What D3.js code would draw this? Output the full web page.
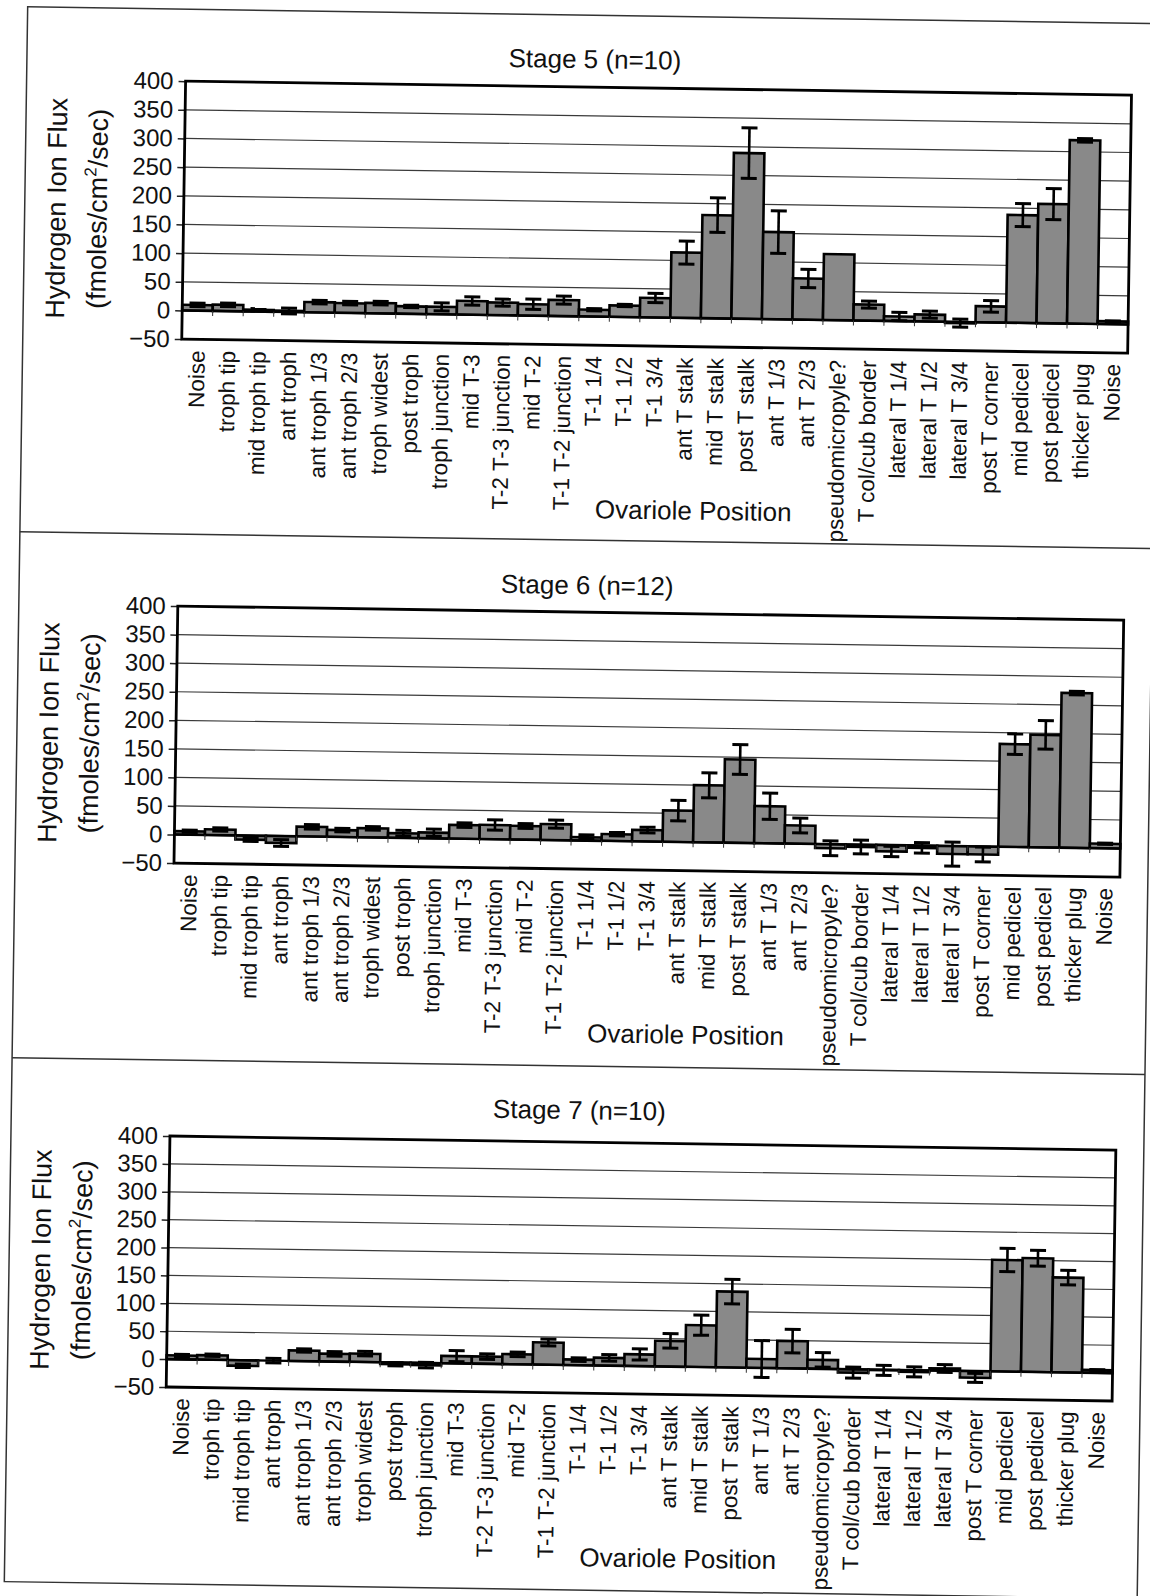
<!DOCTYPE html>
<html>
<head>
<meta charset="utf-8">
<script src="https://cdn.jsdelivr.net/npm/d3@7"></script>
<style>
  html, body { margin: 0; padding: 0; background: #fff; }
  svg { display: block; }
  text { font-family: "Liberation Sans", Arial, sans-serif; fill: #111; }
</style>
</head>
<body>
<svg id="chart" width="1150" height="1596"></svg>
<script>
// Ovariole positions along the x axis (same order in every stage)
const categories = [
  "Noise", "troph tip", "mid troph tip", "ant troph", "ant troph 1/3",
  "ant troph 2/3", "troph widest", "post troph", "troph junction", "mid T-3",
  "T-2 T-3 junction", "mid T-2", "T-1 T-2 junction", "T-1 1/4", "T-1 1/2",
  "T-1 3/4", "ant T stalk", "mid T stalk", "post T stalk", "ant T 1/3",
  "ant T 2/3", "pseudomicropyle?", "T col/cub border", "lateral T 1/4",
  "lateral T 1/2", "lateral T 3/4", "post T corner", "mid pedicel",
  "post pedicel", "thicker plug", "Noise"
];

const yTicks = [-50, 0, 50, 100, 150, 200, 250, 300, 350, 400];

const stageTitles = ["Stage 5 (n=10)", "Stage 6 (n=12)", "Stage 7 (n=10)"];

// Mean H+ flux (fmoles/cm2/sec) and error-bar half widths
const stage5Values = [10, 11, 3, 2, 18, 17, 18, 13, 13, 24, 22, 20, 28, 12, 20, 34,
  114, 180, 289, 152, 72, 115, 28, 8, 12, -2, 28, 188, 208, 320, 5];
const stage5Errors = [3, 3, 2, 5, 3, 3, 3, 2, 7, 7, 6, 9, 7, 2, 2, 8,
  20, 30, 44, 37, 16, 0, 6, 7, 6, 7, 10, 20, 27, 3, 1];

const stage6Values = [6, 10, -7, -12, 17, 12, 16, 8, 10, 24, 25, 24, 28, 6, 12, 20,
  55, 100, 146, 65, 32, -7, -4, -11, -4, -14, -14, 180, 197, 271, 8];
const stage6Errors = [2, 3, 3, 6, 4, 3, 3, 5, 6, 4, 9, 4, 7, 4, 3, 5,
  18, 22, 26, 23, 13, 13, 12, 9, 9, 21, 13, 18, 25, 3, 1];

const stage7Values = [7, 8, -10, 0, 19, 14, 15, -3, -4, 13, 13, 18, 40, 10, 14, 21,
  46, 75, 136, 16, 49, 16, -6, -1, -3, 4, -12, 200, 204, 170, 5];
const stage7Errors = [2, 2, 3, 4, 3, 4, 4, 3, 5, 10, 5, 4, 6, 3, 6, 10,
  13, 18, 22, 33, 21, 13, 10, 9, 9, 7, 8, 21, 14, 13, 1];

const svg = d3.select("#chart");
// the whole page sits slightly tilted
const page = svg.append("g").attr("transform", "rotate(0.85 575 798)");

// outer frame and panel dividers
const frame = { left: 16, right: 1149, top: 15, bottom: 1590, dividers: [540, 1066] };
page.append("rect")
  .attr("x", frame.left).attr("y", frame.top)
  .attr("width", frame.right - frame.left).attr("height", frame.bottom - frame.top)
  .attr("fill", "none").attr("stroke", "#333").attr("stroke-width", 1.5);
page.selectAll("line.divider").data(frame.dividers).join("line")
  .attr("class", "divider")
  .attr("x1", frame.left).attr("x2", frame.right)
  .attr("y1", d => d).attr("y2", d => d)
  .attr("stroke", "#333").attr("stroke-width", 1.5);

const panels = [
  { title: stageTitles[0], values: stage5Values, errors: stage5Errors, top: 87, bottom: 345, titleY: 68 },
  { title: stageTitles[1], values: stage6Values, errors: stage6Errors, top: 612, bottom: 869, titleY: 594 },
  { title: stageTitles[2], values: stage7Values, errors: stage7Errors, top: 1142, bottom: 1393, titleY: 1119 }
];

const plotLeft = 175, plotRight = 1121;
const idx = d3.range(categories.length);

panels.forEach(p => {
  const g = page.append("g");

  const x = d3.scaleBand().domain(idx).range([plotLeft, plotRight]).paddingInner(0).paddingOuter(0);
  const y = d3.scaleLinear().domain([-50, 400]).range([p.bottom, p.top]);

  // gridlines
  g.append("g").selectAll("line").data(yTicks.filter(t => t > -50 && t < 400)).join("line")
    .attr("x1", plotLeft).attr("x2", plotRight)
    .attr("y1", d => y(d)).attr("y2", d => y(d))
    .attr("stroke", "#3a3a3a").attr("stroke-width", 1.2);

  // y axis ticks and labels
  const yAxis = g.append("g")
    .attr("transform", `translate(${plotLeft},0)`)
    .call(d3.axisLeft(y).tickValues(yTicks).tickSize(7).tickPadding(5));
  yAxis.select(".domain").remove();
  yAxis.selectAll(".tick line").attr("stroke", "#222").attr("stroke-width", 1.5);
  yAxis.selectAll(".tick text")
    .attr("font-size", 24).attr("fill", "#111")
    .style("font-family", '"Liberation Sans", Arial, sans-serif');

  // bars
  g.append("g").selectAll("rect").data(p.values).join("rect")
    .attr("x", (d, i) => x(i))
    .attr("width", x.bandwidth())
    .attr("y", d => y(Math.max(0, d)))
    .attr("height", d => Math.abs(y(d) - y(0)))
    .attr("fill", "#898989")
    .attr("stroke", "#000").attr("stroke-width", 2.6);

  // category axis along zero with small ticks between categories
  g.append("line")
    .attr("x1", plotLeft).attr("x2", plotRight)
    .attr("y1", y(0)).attr("y2", y(0))
    .attr("stroke", "#000").attr("stroke-width", 2.2);
  g.append("g").selectAll("line").data(idx.slice(1)).join("line")
    .attr("x1", i => x(i)).attr("x2", i => x(i))
    .attr("y1", y(0)).attr("y2", y(0) + 5)
    .attr("stroke", "#333").attr("stroke-width", 1);

  // error bars
  const cap = 8;
  const eb = g.append("g").selectAll("g").data(p.values.map((v, i) => ({ v, e: p.errors[i], i })))
    .join("g").filter(d => d.e > 0);
  eb.append("line")
    .attr("x1", d => x(d.i) + x.bandwidth() / 2).attr("x2", d => x(d.i) + x.bandwidth() / 2)
    .attr("y1", d => y(d.v - d.e)).attr("y2", d => y(d.v + d.e))
    .attr("stroke", "#000").attr("stroke-width", 2.6);
  eb.selectAll("line.cap").data(d => [d.v - d.e, d.v + d.e].map(val => ({ val, i: d.i }))).join("line")
    .attr("class", "cap")
    .attr("x1", d => x(d.i) + x.bandwidth() / 2 - cap).attr("x2", d => x(d.i) + x.bandwidth() / 2 + cap)
    .attr("y1", d => y(d.val)).attr("y2", d => y(d.val))
    .attr("stroke", "#000").attr("stroke-width", 3);

  // plot border
  g.append("rect")
    .attr("x", plotLeft).attr("y", p.top)
    .attr("width", plotRight - plotLeft).attr("height", p.bottom - p.top)
    .attr("fill", "none").attr("stroke", "#000").attr("stroke-width", 2.8);

  // category labels below the plot, reading upward
  const xAxis = g.append("g")
    .attr("transform", `translate(0,${p.bottom})`)
    .call(d3.axisBottom(x).tickSize(0).tickFormat(i => categories[i]));
  xAxis.select(".domain").remove();
  xAxis.selectAll(".tick text")
    .attr("font-size", 22.5).attr("fill", "#111")
    .style("font-family", '"Liberation Sans", Arial, sans-serif')
    .attr("text-anchor", "end")
    .attr("transform", "rotate(-90)")
    .attr("x", -11).attr("y", 0).attr("dy", "0.35em");

  // chart title
  g.append("text")
    .attr("x", 584).attr("y", p.titleY)
    .attr("text-anchor", "middle").attr("font-size", 26)
    .text(p.title);

  // x axis title
  g.append("text")
    .attr("x", 689).attr("y", p.bottom + 173)
    .attr("text-anchor", "middle").attr("font-size", 26)
    .text("Ovariole Position");

  // y axis title, two lines
  const yc = (p.top + p.bottom) / 2;
  g.append("text")
    .attr("transform", `translate(57,${yc}) rotate(-90)`)
    .attr("text-anchor", "middle").attr("font-size", 27)
    .text("Hydrogen Ion Flux");
  const t2 = g.append("text")
    .attr("transform", `translate(98,${yc}) rotate(-90)`)
    .attr("text-anchor", "middle").attr("font-size", 27);
  t2.append("tspan").text("(fmoles/cm");
  t2.append("tspan").attr("font-size", 17).attr("dy", -11).text("2");
  t2.append("tspan").attr("dy", 11).text("/sec)");
});
</script>
</body>
</html>
